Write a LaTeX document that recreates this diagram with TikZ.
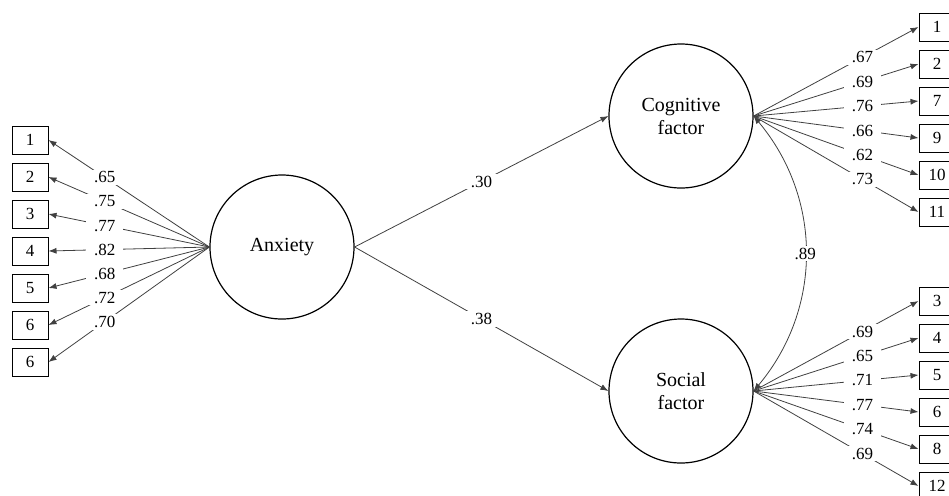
\documentclass[tikz,border=0pt]{standalone}
\usepackage{fontspec}
\setmainfont{Liberation Serif}
\usetikzlibrary{positioning,arrows.meta}

\begin{document}
\begin{tikzpicture}[x=0.5pt, y=-0.5pt, >={Latex[length=4pt,width=3pt]}, node distance=4pt,
  every node/.style={font=\fontsize{8.5}{10}\selectfont}]
  % compact styles for factors, items and loadings
  \tikzset{latent/.style={draw, circle, line width=0.6pt, minimum size=72pt, inner sep=0pt, align=center, font=\fontsize{10}{11.5}\selectfont},
    item/.style={draw, line width=0.5pt, minimum width=18pt, minimum height=14pt, inner sep=0pt},
    coef/.style={fill=white, inner xsep=4pt, inner ysep=1pt},
    link/.style={->, line width=0.4pt, draw=black!75}}
  \useasboundingbox (0,0) rectangle (949,495);

  % latent factors
  \node[latent] (anx) at (282,247) {Anxiety};
  \node[latent] (cog) at (681,116) {Cognitive\\factor};
  \node[latent] (soc) at (681,391) {Social\\factor};

  % anxiety items
  \node[item] (a1) at (30,140) {1};
  \node[item, below=of a1] (a2) {2};
  \node[item, below=of a2] (a3) {3};
  \node[item, below=of a3] (a4) {4};
  \node[item, below=of a4] (a5) {5};
  \node[item, below=of a5] (a6) {6};
  \node[item, below=of a6] (a7) {6};

  % cognitive items
  \node[item] (c1) at (937,27) {1};
  \node[item, below=of c1] (c2) {2};
  \node[item, below=of c2] (c7) {7};
  \node[item, below=of c7] (c9) {9};
  \node[item, below=of c9] (c10) {10};
  \node[item, below=of c10] (c11) {11};

  % social items
  \node[item] (s3) at (937,301) {3};
  \node[item, below=of s3] (s4) {4};
  \node[item, below=of s4] (s5) {5};
  \node[item, below=of s5] (s6) {6};
  \node[item, below=of s6] (s8) {8};
  \node[item, below=of s8] (s12) {12};

  % loadings of anxiety
  \draw[link] (anx.west) -- node[coef, pos=0.65] {.65} (a1.east);
  \draw[link] (anx.west) -- node[coef, pos=0.65] {.75} (a2.east);
  \draw[link] (anx.west) -- node[coef, pos=0.65] {.77} (a3.east);
  \draw[link] (anx.west) -- node[coef, pos=0.65] {.82} (a4.east);
  \draw[link] (anx.west) -- node[coef, pos=0.65] {.68} (a5.east);
  \draw[link] (anx.west) -- node[coef, pos=0.65] {.72} (a6.east);
  \draw[link] (anx.west) -- node[coef, pos=0.65] {.70} (a7.east);

  % loadings of cognitive factor
  \draw[link] (cog.east) -- node[coef, pos=0.66] {.67} (c1.west);
  \draw[link] (cog.east) -- node[coef, pos=0.66] {.69} (c2.west);
  \draw[link] (cog.east) -- node[coef, pos=0.66] {.76} (c7.west);
  \draw[link] (cog.east) -- node[coef, pos=0.66] {.66} (c9.west);
  \draw[link] (cog.east) -- node[coef, pos=0.66] {.62} (c10.west);
  \draw[link] (cog.east) -- node[coef, pos=0.66] {.73} (c11.west);

  % loadings of social factor
  \draw[link] (soc.east) -- node[coef, pos=0.66] {.69} (s3.west);
  \draw[link] (soc.east) -- node[coef, pos=0.66] {.65} (s4.west);
  \draw[link] (soc.east) -- node[coef, pos=0.66] {.71} (s5.west);
  \draw[link] (soc.east) -- node[coef, pos=0.66] {.77} (s6.west);
  \draw[link] (soc.east) -- node[coef, pos=0.66] {.74} (s8.west);
  \draw[link] (soc.east) -- node[coef, pos=0.66] {.69} (s12.west);

  % structural paths and factor correlation
  \draw[link] (anx.east) -- node[coef] {.30} (cog.west);
  \draw[link] (anx.east) -- node[coef] {.38} (soc.west);
  \draw[link, <->] (cog.east) to[out=-50, in=50] node[coef] {.89} (soc.east);
\end{tikzpicture}
\end{document}
